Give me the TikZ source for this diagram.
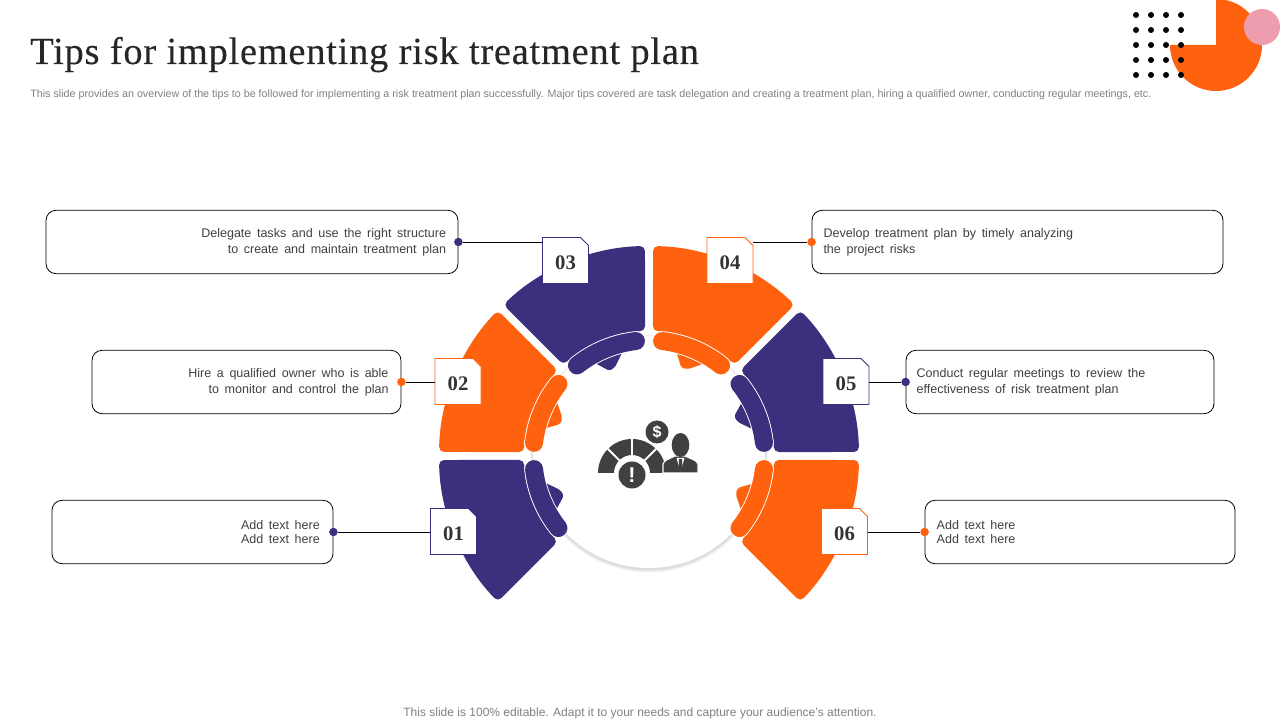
\documentclass[tikz,border=0pt]{standalone}
\usepackage{fontspec}
\setmainfont{Liberation Sans}
\newfontfamily\titlefont[LetterSpace=2,FakeBold=0.25]{Liberation Serif}
\newfontfamily\numfont{Liberation Serif}
\usetikzlibrary{shapes.misc}
\definecolor{tipblue}{HTML}{3C2F7E}
\definecolor{tiporange}{HTML}{FF620F}
\definecolor{tippink}{HTML}{EE9DAF}
\definecolor{tipdark}{HTML}{404040}
\tikzset{
    tipbox/.style={draw=black,line width=0.6pt,rounded corners=7.5pt,fill=white,minimum height=47.5pt,inner xsep=0pt,execute at begin node={\vskip-4.5pt\spaceskip=.447em\relax},font=\fontsize{9.4}{11.7}\selectfont,text=tipdark},
    numbox/.style={draw=#1,line width=0.6pt,fill=white,chamfered rectangle,chamfered rectangle corners=north east,chamfered rectangle xsep=3pt,chamfered rectangle ysep=3pt,minimum width=34.5pt,minimum height=34.5pt,inner sep=0pt,text height=13pt,text depth=0pt,font=\numfont\bfseries\fontsize{15.5}{15.5}\selectfont,text=tipdark!80!black},
    tipdot/.style={circle,fill=#1,inner sep=0pt,minimum size=6.4pt},
    tipline/.style={draw=black,line width=0.6pt},
}
\begin{document}
\begin{tikzpicture}[x=0.75pt,y=0.75pt]
    \useasboundingbox (0,0) rectangle (1280,720);
    %% Title and notes
    \node[anchor=base west,inner sep=0pt,text=black!85,font=\titlefont\fontsize{28.8}{32}\selectfont] (title) at (30,656) {Tips for implementing risk treatment plan};
    \node[anchor=west,inner sep=0pt,text=black!50,font=\fontsize{8.05}{10}\selectfont] (subtitle) at (30,625.5) {This slide provides an overview of the tips to be followed for implementing a risk treatment plan successfully. Major tips covered are task delegation and creating a treatment plan, hiring a qualified owner, conducting regular meetings, etc.};
    \node[inner sep=0pt,text=black!50,font=\fontsize{9}{11}\selectfont] (footer) at (640,7) {This slide is 100\% editable. Adapt it to your needs and capture your audience's attention.};
    %% Corner decoration
    \fill[tiporange] (1216,675) -- (1216,721) arc (90:-180:46) -- cycle;
    \fill[tippink] (1262,693) circle (18);
    \foreach \x in {1136,1151,1166,1181}
        \foreach \y in {645,660,675,690,705}
            \fill[black] (\x,\y) circle (3);
    %% Disc behind the wheel
    \foreach \r/\s in {119/96,118/92,117/87}
        \fill[black!\the\numexpr100-\s\relax] (649,266.5) circle (\r);
    \fill[white] (649,268) circle (116);
    %% Wheel
    \foreach \ang/\col in {180/tipblue,135/tiporange,90/tipblue,45/tiporange,0/tipblue,-45/tiporange}{
        \begin{scope}[shift={(649,264)},rotate=\ang]
            \fill[\col,rounded corners=3.75pt] (1.1:210) arc (1.1:43.9:210) -- (43.2:125) arc (43.2:1.8:125) -- cycle;
            \fill[\col,rounded corners=1.5pt] (14.5:107) -- (30:107) -- (25:94) -- (21:95) -- cycle;
            \draw[white,line width=14.8pt,line cap=round] (6.5:115.7) arc (6.5:38.5:115.7);
            \draw[\col,line width=13.5pt,line cap=round] (6.5:115.7) arc (6.5:38.5:115.7);
        \end{scope}
    }
    %% Icon
    \fill[tipdark] (598,247) arc (180:0:34) -- (650,247) arc (0:180:18) -- cycle;
    \foreach \a in {45,90,135}
        \draw[white,line width=1.5pt] (632,247) -- ++ (\a:35);
    \fill[white] (632,245) circle (16);
    \fill[tipdark] (632,245) circle (13.5);
    \node[text=white,inner sep=0pt,font=\bfseries\fontsize{16}{16}\selectfont] (alert) at (632,245) {!};
    \fill[tipdark] (657,288) circle (11.5);
    \node[text=white,inner sep=0pt,font=\bfseries\fontsize{12}{12}\selectfont] (money) at (657,288) {\$};
    \fill[tipdark,draw=white,line width=0.9pt] (663,247) -- (663,256) .. controls (664,260) and (669,261) .. (675,264) -- (685,264) .. controls (691,261) and (697,260) .. (698,256) -- (698,247) -- cycle;
    \fill[tipdark] (680.5,275) ellipse (8.8 and 12);
    \fill[white] (676.5,262) -- (680.5,248) -- (684.5,262) -- cycle;
    \fill[tipdark] (679,261) -- (682,261) -- (682.5,251) -- (680.5,248) -- (678.5,251) -- cycle;
    %% Text boxes
    \node[tipbox,minimum width=309pt,text width=291pt,align=right] (box03) at (252,478) {Delegate tasks and use the right structure\\to create and maintain treatment plan};
    \node[tipbox,minimum width=231.75pt,text width=213pt,align=right] (box02) at (246.5,338) {Hire a qualified owner who is able\\to monitor and control the plan};
    \node[tipbox,minimum width=210.75pt,text width=191pt,align=right,execute at end node={\vskip3pt}] (box01) at (192.5,188) {Add text here\\[-1pt]Add text here};
    \node[tipbox,minimum width=308.25pt,text width=291pt,align=left] (box04) at (1017.5,478) {Develop treatment plan by timely analyzing\\the project risks};
    \node[tipbox,minimum width=231pt,text width=215pt,align=left] (box05) at (1060,338) {Conduct regular meetings to review the\\effectiveness of risk treatment plan};
    \node[tipbox,minimum width=232.5pt,text width=215pt,align=left,execute at end node={\vskip3pt}] (box06) at (1080,188) {Add text here\\[-1pt]Add text here};
    %% Number tags
    \node[numbox=tipblue] (num01) at (453.5,188.5) {01};
    \node[numbox=tiporange] (num02) at (458,338.5) {02};
    \node[numbox=tipblue] (num03) at (565.5,459.5) {03};
    \node[numbox=tiporange] (num04) at (730,459.5) {04};
    \node[numbox=tipblue] (num05) at (846,338.5) {05};
    \node[numbox=tiporange] (num06) at (844.5,188.5) {06};
    %% Dots and connectors
    \node[tipdot=tipblue] (dot01) at (box01.east) {};
    \node[tipdot=tiporange] (dot02) at (box02.east) {};
    \node[tipdot=tipblue] (dot03) at (box03.east) {};
    \node[tipdot=tiporange] (dot04) at (box04.west) {};
    \node[tipdot=tipblue] (dot05) at (box05.west) {};
    \node[tipdot=tiporange] (dot06) at (box06.west) {};
    \foreach \n in {01,02,03}
        \draw[tipline] (dot\n) -- (num\n.west |- dot\n);
    \foreach \n in {04,05,06}
        \draw[tipline] (dot\n) -- (num\n.east |- dot\n);
\end{tikzpicture}
\end{document}
